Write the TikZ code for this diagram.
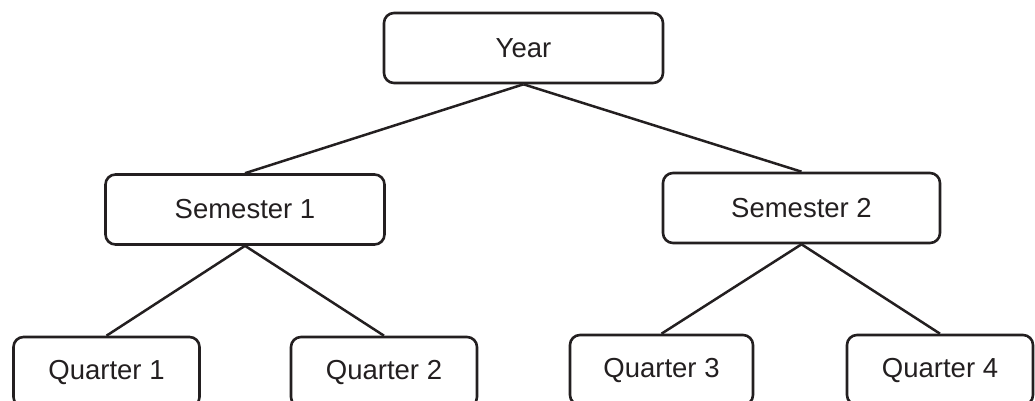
\documentclass[tikz,border=0pt]{standalone}
\usepackage{fontspec}
\setmainfont{Liberation Sans}
\definecolor{ink}{HTML}{231F20}
\begin{document}
\begin{tikzpicture}[x=1pt,y=-1pt,
  box/.style={draw=ink,line width=2.6pt,rounded corners=10pt,minimum width=#1,minimum height=70pt,inner sep=0pt,font=\fontsize{27.5}{32}\selectfont,text=ink},
  box/.default=278pt,
  link/.style={draw=ink,line width=2.5pt}]
\useasboundingbox (0,0) rectangle (1035,401);
\clip (0,0) rectangle (1035,401);
\node[box=279pt] (year) at (523.5,48) {Year};
\node[box=279pt] (s1) at (245,209.5) {Semester 1};
\node[box=277pt] (s2) at (801.5,208) {Semester 2};
\node[box=186pt] (q1) at (106.5,372) {Quarter 1};
\node[box=186pt] (q2) at (384,372) {Quarter 2};
\node[box=183pt] (q3) at (661.5,370) {Quarter 3};
\node[box=186pt] (q4) at (940,370) {Quarter 4};
\draw[link] (year.south) -- (s1.north);
\draw[link] (year.south) -- (s2.north);
\draw[link] (s1.south) -- (q1.north);
\draw[link] (s1.south) -- (q2.north);
\draw[link] (s2.south) -- (q3.north);
\draw[link] (s2.south) -- (q4.north);
\end{tikzpicture}
\end{document}
